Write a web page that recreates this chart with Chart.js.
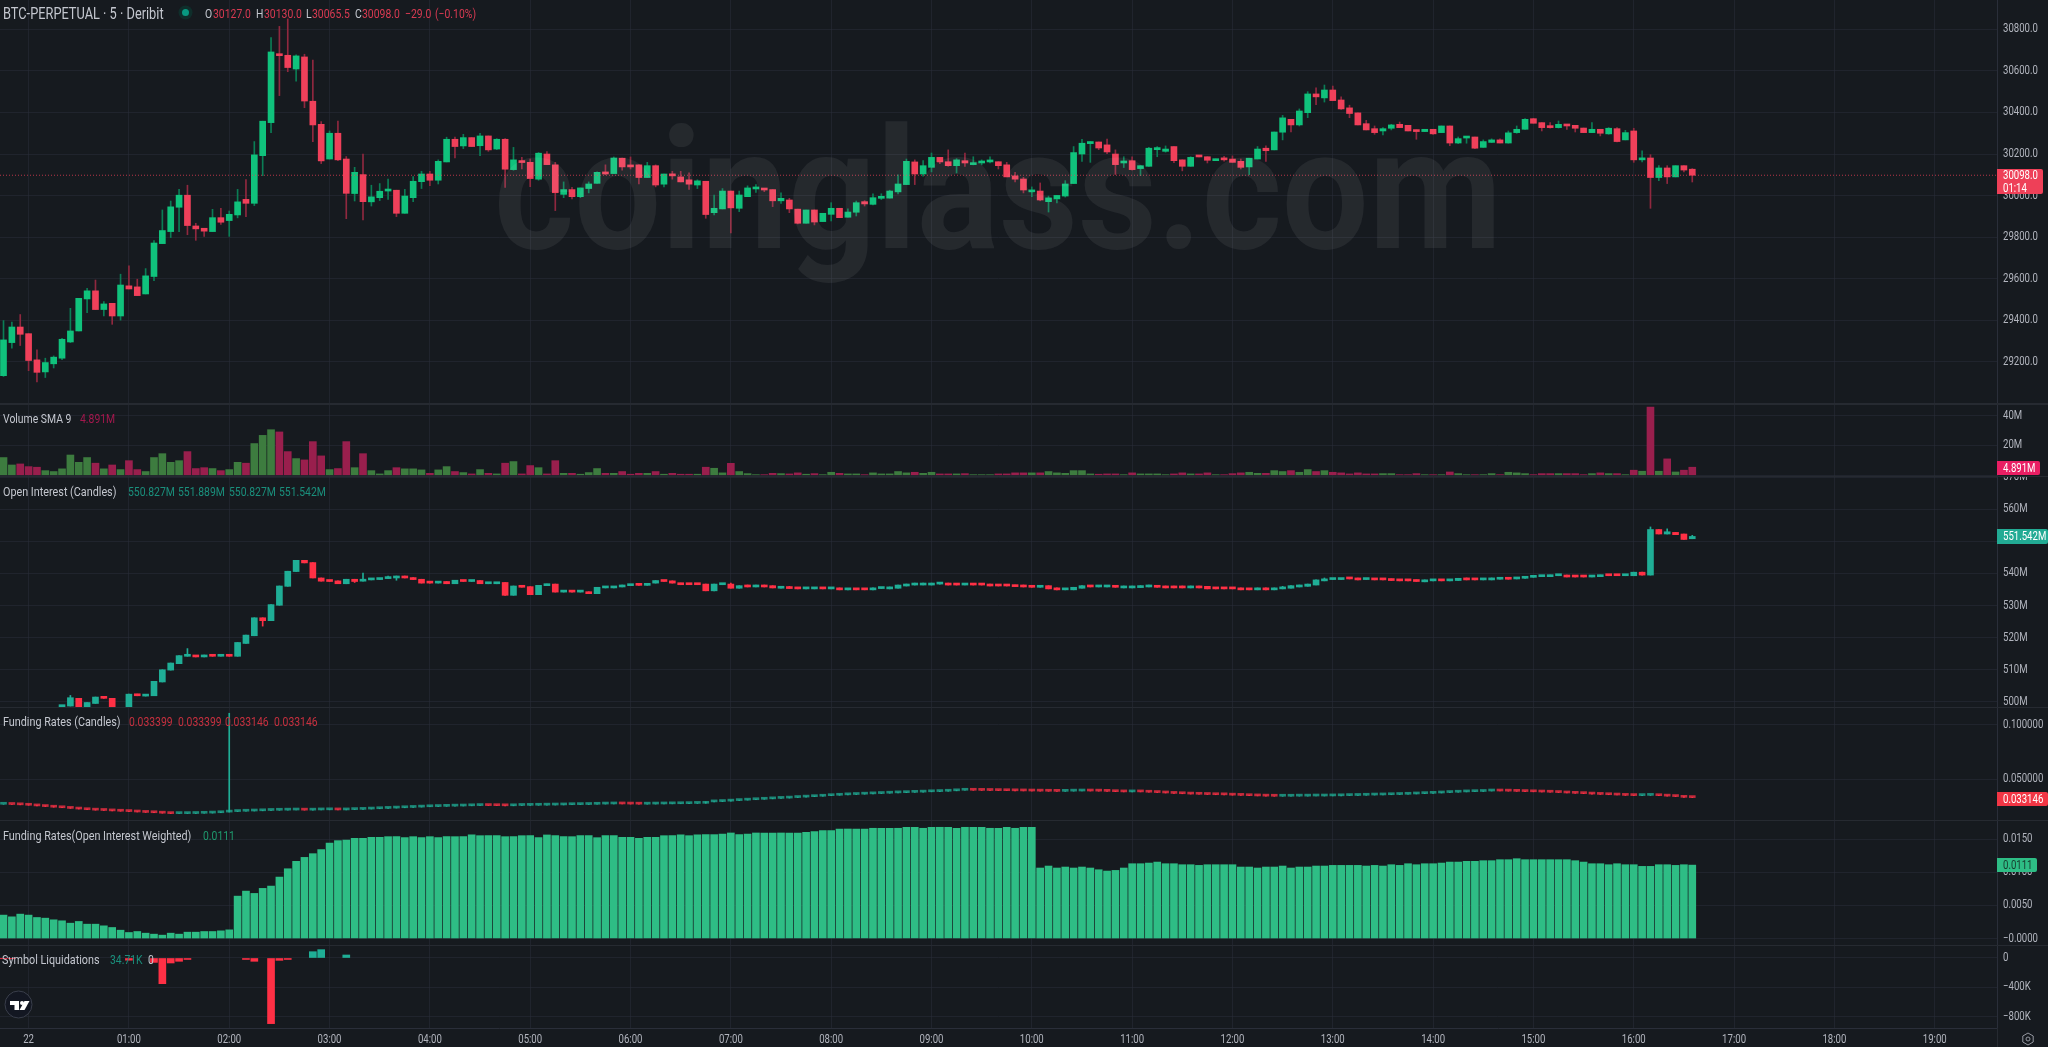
<!DOCTYPE html>
<html>
<head>
<meta charset="utf-8">
<title>BTC-PERPETUAL</title>
<script src="https://cdn.jsdelivr.net/npm/chart.js@4"></script>
<style>
  html, body { margin:0; padding:0; background:#161a1f; width:2048px; height:1047px; overflow:hidden; }
  canvas { position:absolute; left:0; }
  .txt { position:absolute; white-space:pre; transform:translateY(-50%) scaleX(.8); transform-origin:left center; font:13px Roboto,sans-serif; line-height:15px; }
  .tag { position:absolute; left:1997px; font:12px Roboto,sans-serif; padding-left:6px; box-sizing:border-box; border-radius:0 2px 2px 0; }
  .tag span { display:inline-block; transform:scaleX(.8); transform-origin:left center; white-space:pre; }
  .rule { position:absolute; background:#262a31; }
</style>
</head>
<body>
<script>
// 5 minute candles, x is the candle number counted from 00:00 on the 22nd
const firstIndex = -3;

const priceOpen = [29134,29293,29368,29336,29210,29152,29191,29218,29296,29349,
29503,29542,29452,29482,29421,29566,29561,29527,29611,29769,
29827,29944,30002,29854,29843,29827,29894,29880,29907,29982,
29963,30192,30351,30675,30675,30609,30667,30454,30343,30176,
30300,30176,30010,30101,29970,29990,30022,30026,29915,29990,
30067,30104,30074,30162,30271,30239,30279,30240,30287,30224,
30271,30125,30164,30160,30079,30200,30148,30006,30029,29995,
30034,30059,30114,30106,30180,30144,30148,30087,30144,30055,
30104,30090,30076,30051,30069,29918,29936,30022,29939,29995,
30032,30033,30029,29975,29979,29935,29867,29931,29875,29910,
29939,29896,29920,29971,29958,29987,29988,30018,30053,30162,
30104,30136,30184,30163,30144,30168,30149,30157,30162,30163,
30148,30095,30080,30018,30022,29971,29984,29998,30058,30200,
30250,30258,30244,30200,30157,30168,30130,30141,30221,30213,
30236,30172,30141,30191,30187,30168,30175,30176,30165,30138,
30176,30228,30220,30305,30367,30340,30399,30489,30470,30508,
30460,30422,30398,30346,30322,30311,30324,30343,30338,30316,
30308,30319,30303,30335,30253,30277,30282,30232,30256,30268,
30253,30303,30319,30370,30351,30330,30327,30343,30338,30325,
30303,30319,30297,30322,30268,30311,30172,30181,30087,30133,
30090,30144,30127];
const priceHigh = [29399,29392,29428,29336,29258,29218,29229,29314,29458,29506,
29554,29594,29490,29482,29622,29662,29598,29649,29784,29931,
29974,30030,30050,29867,29843,29934,29939,29926,30030,30077,
30260,30358,30760,30814,30850,30677,30680,30652,30356,30311,
30359,30188,30136,30200,30050,30058,30080,30026,30030,30091,
30117,30117,30172,30281,30281,30295,30279,30300,30287,30274,
30274,30232,30184,30176,30207,30212,30160,30066,30040,30037,
30066,30115,30148,30186,30180,30186,30148,30160,30148,30104,
30117,30117,30109,30076,30069,30003,30034,30022,30022,30047,
30053,30033,30029,30013,29987,29935,29931,29931,29915,29966,
29939,29936,29974,29976,30009,30009,30026,30100,30176,30172,
30168,30205,30184,30220,30178,30204,30187,30172,30187,30163,
30160,30112,30088,30042,30061,29998,30001,30072,30236,30271,
30260,30258,30272,30220,30187,30187,30144,30232,30236,30239,
30236,30172,30187,30191,30187,30176,30189,30191,30176,30180,
30236,30239,30306,30386,30367,30417,30500,30518,30532,30527,
30475,30435,30398,30362,30335,30327,30343,30354,30338,30316,
30319,30319,30335,30335,30282,30282,30282,30268,30273,30273,
30311,30335,30370,30372,30351,30351,30359,30343,30338,30325,
30351,30319,30327,30327,30314,30324,30216,30197,30144,30144,
30144,30144,30130];
const priceLow = [29130,29266,29279,29158,29104,29125,29171,29211,29293,29349,
29437,29452,29421,29381,29401,29551,29519,29527,29591,29769,
29798,29827,29812,29785,29804,29827,29861,29804,29893,29899,
29952,30096,30303,30481,30596,30551,30423,30260,30154,30176,
30168,29889,29974,29883,29950,29976,29982,29899,29915,29971,
30034,30048,30056,30162,30181,30226,30236,30192,30213,30221,
30039,30122,30128,30043,30074,30149,29928,29990,29984,29990,
30013,30059,30100,30106,30122,30128,30056,30087,30042,30042,
30079,30066,30030,30034,29891,29907,29936,29821,29923,29995,
30015,30019,29947,29962,29918,29864,29867,29859,29875,29878,
29894,29896,29902,29950,29955,29981,29988,30008,30053,30053,
30093,30114,30154,30141,30109,30141,30148,30148,30157,30128,
30090,30066,30013,29995,29975,29921,29965,29993,30058,30165,
30160,30221,30202,30101,30135,30122,30096,30141,30187,30209,
30159,30119,30141,30186,30157,30168,30166,30160,30128,30101,
30176,30165,30220,30268,30306,30335,30375,30438,30450,30457,
30414,30375,30340,30316,30295,30292,30316,30327,30311,30271,
30308,30294,30303,30240,30250,30252,30226,30232,30255,30253,
30252,30300,30319,30348,30311,30325,30325,30319,30306,30303,
30303,30287,30295,30258,30268,30160,30162,29939,30072,30058,
30090,30114,30065.5];
const priceClose = [29306,29368,29333,29207,29150,29197,29223,29309,29349,29506,
29542,29452,29479,29421,29570,29551,29519,29614,29772,29832,
29946,30002,29856,29840,29829,29894,29872,29910,29970,29963,
30196,30358,30691,30673,30616,30672,30455,30340,30167,30300,
30172,30011,30112,29971,29994,30021,30026,29915,29998,30069,
30104,30074,30165,30271,30236,30279,30236,30287,30220,30271,
30127,30172,30159,30082,30204,30149,30014,30029,29995,30037,
30056,30112,30104,30181,30138,30138,30087,30144,30051,30104,
30095,30066,30055,30071,29909,29939,30022,29941,30003,30037,
30037,30027,29975,29987,29936,29867,29931,29873,29915,29939,
29894,29921,29966,29960,29990,29993,30022,30056,30165,30104,
30144,30184,30162,30144,30172,30157,30157,30163,30168,30144,
30090,30079,30027,30027,29979,29989,30001,30056,30207,30252,
30260,30229,30210,30149,30165,30125,30144,30228,30231,30224,
30168,30141,30184,30186,30170,30176,30172,30160,30136,30180,
30224,30216,30306,30374,30340,30407,30489,30475,30508,30457,
30417,30395,30340,30316,30303,30322,30340,30327,30311,30308,
30319,30297,30335,30253,30274,30282,30228,30260,30268,30253,
30302,30319,30367,30348,30327,30327,30343,30335,30324,30303,
30319,30300,30324,30260,30303,30172,30181,30087,30133,30090,
30144,30123,30098];

// millions
const volume = [11.9,6.9,7.6,5.8,5.4,3.1,2.5,4.3,13.6,8.7,11.9,8.1,4.3,6.9,3.8,9.8,3.8,2.5,11.9,14.5,
8.7,9.8,15.9,4.5,5.1,4.5,3.1,3.8,8.7,8.1,21.3,26.8,30.6,29.1,15.9,11.2,10.3,22.6,13.0,3.8,
4.5,22.6,5.1,14.5,3.1,0.9,3.1,5.1,4.3,4.3,3.6,1.3,3.6,5.8,2.5,1.8,0.9,3.8,1.3,0.9,
8.1,9.2,0.9,6.5,5.1,0.9,9.8,1.3,1.3,0.7,1.8,4.5,1.3,1.3,2.5,0.7,1.3,1.3,2.5,0.7,
1.3,0.7,0.7,0.7,5.4,4.7,1.6,8,2.5,1.1,0.4,0.4,1.3,1.1,0.9,1.6,0.7,1.1,0.4,2,
1.3,0.9,0.9,0.4,1.6,0.9,0.9,2.5,1.6,2,1.3,2,0.9,0.9,0.9,1.1,0.4,0.4,0.4,0.9,
0.9,1.6,1.6,1.6,1.6,2.5,1.6,1.3,3.1,3.1,0.9,0.7,0.9,0.9,0.4,1.6,0.9,0.9,0.9,0.4,
0.9,1.6,0.9,0.9,1.6,0.4,0.4,1.1,1.6,2,1.3,1.3,3.1,2.5,3.1,2,3.8,2.5,3.1,
2,1.6,0.9,1.6,0.9,0.9,1.1,1.1,0.4,0.4,1.1,0.4,0.4,0.4,2.2,1.1,0.4,0.4,0.4,1.1,
0.4,2,1.6,1.1,0.4,1.1,1.1,1.1,1.1,1.1,0.4,1.1,1.6,1.1,1.1,0.4,3.4,2.7,45.8,2.7,
11,2.2,3.4,5.4];

// millions, null where the candle sits below the visible pane
const oiOpen = [null,null,null,null,null,null,null,498.5,498.7,501.1,
498.5,499.5,501.5,501.1,null,498.5,502.4,501.8,501.9,506.2,
509.9,511.9,514.2,514.4,514.0,514.5,514.2,514.5,514.2,518.2,
520.6,526.2,525.3,530.1,536.0,540.6,544.1,543.4,538.6,537.9,
537.7,536.8,538.2,537.6,538.0,538.1,538.4,538.6,539.2,538.7,
538.2,537.4,537.0,537.5,536.8,537.9,537.5,537.8,536.8,536.8,
537.2,533.2,536.1,535.9,533.4,536.2,536.7,534.2,534.5,534.2,
534.3,533.7,535.5,535.5,535.8,536.2,536.5,536.3,537.0,537.8,
537.7,537.0,536.7,536.7,536.7,534.6,536.5,536.7,535.4,536.4,
535.8,536.4,536.2,535.4,535.7,535.7,535.2,535.2,535.5,535.2,
535.5,534.9,535.2,535.2,534.9,535.3,535.2,535.4,536.1,536.4,
536.4,536.4,536.7,537.0,536.7,536.4,536.7,536.7,536.7,536.5,
536.5,536.4,536.4,536.2,535.7,536.2,535.5,534.9,534.9,535.4,
536.2,535.8,535.8,536.2,535.5,535.5,535.6,535.8,536.2,536.1,
536.1,536.1,535.5,536.1,536.0,535.5,535.5,535.5,535.5,535.2,
534.9,535.5,534.9,535.2,535.4,535.8,536.0,536.4,537.7,538.1,
538.1,538.6,538.6,538.1,538.3,538.3,538.3,538.0,538.0,538.0,
537.4,537.7,538.0,537.7,537.8,538.6,538.2,538.0,538.0,538.2,
538.5,538.3,538.5,538.8,539.0,539.0,539.3,539.5,539.3,539.3,
538.9,539.0,539.5,539.5,539.3,539.3,540.4,539.5,553.7,552.3,
552.8,552.3,550.827];
const oiClose = [null,null,null,null,null,null,null,498.9,501.3,498.5,
499.8,501.5,501.1,498.5,null,502.4,501.9,502.2,506.4,510.0,
512.1,514.4,514.5,514.0,514.6,514.2,514.5,514.2,518.5,520.8,
526.2,525.3,530.3,536.1,540.7,544.1,543.3,538.6,537.6,537.5,
536.8,538.2,537.5,538.2,538.2,538.5,538.9,539.2,538.6,538.1,
537.0,537.0,537.5,536.8,537.9,537.5,537.8,536.8,537.0,537.1,
533.2,536.1,535.7,533.4,536.3,536.7,534.2,534.6,534.2,534.4,
533.7,535.7,535.8,535.9,536.4,536.5,536.3,536.9,537.8,537.5,
537.0,536.5,536.5,536.5,534.6,536.7,536.7,535.4,536.2,535.8,
536.4,535.8,535.5,535.8,535.3,535.2,535.5,535.5,535.2,535.5,
534.9,535.3,534.9,534.9,535.5,535.5,535.8,536.4,536.7,536.7,
536.7,537.0,537.0,536.4,536.4,536.7,536.4,536.4,536.1,536.1,
536.1,535.9,535.8,535.7,536.2,535.2,534.9,535.2,535.7,536.2,
535.8,536.3,536.3,535.7,536.1,536.1,536.2,536.4,535.7,535.5,
535.5,535.5,536.1,535.5,535.2,535.2,535.2,535.2,534.9,534.9,
535.5,534.9,535.5,535.7,536.2,536.4,536.7,538.0,538.3,538.4,
538.5,538.3,538.0,538.3,538.0,538.0,537.8,537.7,537.7,537.5,
538.0,538.0,537.7,538.0,538.5,538.0,538.0,538.2,538.6,538.6,
538.2,538.8,539.0,539.3,539.4,539.5,539.5,538.9,538.9,538.9,
539.3,539.5,539.3,539.3,539.5,540.4,539.5,553.7,552.3,553.0,
552.1,550.6,551.542];
// the few open interest candles with a visible wick, as candle position in the list above
const oiWickPos = [8,22,31,42,43,46,47,87,94,109,110,153,158,197,199,202];
const oiWickHigh = [502.0,516.6,526.2,538.2,540.1,539.2,539.2,537.0,536.0,537.0,537.0,536.0,538.6,554.5,553.9,551.889];
const oiWickLow = [498.7,514.2,523.6,537.2,537.6,538.4,537.9,535.4,535.3,536.4,536.4,535.2,537.7,539.5,552.3,550.827];

const fundRate = [.0270,.0268,.0265,.0261,.0255,.0249,.0243,.0238,.0232,.0226,
.0220,.0216,.0213,.0209,.0206,.0203,.0199,.0195,.0192,.0188,
.0184,.0184,.0185,.0187,.0189,.0192,.0198,.0203,.0206,.0208,
.0210,.0213,.0215,.0216,.0217,.0217,.0216,.0218,.0219,.0220,
.0218,.0221,.0223,.0226,.0229,.0232,.0235,.0238,.0241,.0244,
.0247,.0249,.0251,.0253,.0254,.0256,.0258,.0259,.0258,.0257,
.0256,.0259,.0260,.0261,.0262,.0263,.0264,.0266,.0267,.0268,
.0270,.0272,.0273,.0274,.0273,.0272,.0271,.0272,.0273,.0274,
.0275,.0276,.0278,.0279,.0292,.0295,.0299,.0304,.0308,.0312,
.0316,.0320,.0324,.0327,.0332,.0336,.0340,.0344,.0349,.0353,
.0357,.0360,.0363,.0366,.0369,.0372,.0375,.0377,.0380,.0382,
.0385,.0387,.0390,.0394,.0399,.0400,.0399,.0398,.0397,.0396,
.0395,.0394,.0393,.0392,.0391,.0390,.0389,.0391,.0392,.0393,
.0392,.0391,.0389,.0386,.0384,.0386,.0384,.0381,.0378,.0374,
.0370,.0367,.0364,.0362,.0360,.0358,.0357,.0354,.0352,.0349,
.0347,.0345,.0344,.0344,.0345,.0345,.0346,.0346,.0347,.0348,
.0350,.0351,.0353,.0355,.0356,.0358,.0360,.0362,.0365,.0368,
.0371,.0374,.0378,.0381,.0384,.0386,.0388,.0392,.0393,.0392,
.0391,.0389,.0387,.0385,.0383,.0381,.0378,.0374,.0371,.0368,
.0364,.0361,.0358,.0355,.0352,.0350,.0352,.0353,.0349,.0345,
.0341,.033399,.033146];
const fundSpikeIndex = 24;
const fundSpikeHigh = 0.1108;

const fundWeighted = [.00354,.00328,.00369,.00354,.00318,.00308,.00283,.00268,.00232,.00258,
.00217,.00217,.00192,.00167,.00126,.00091,.00106,.00081,.00066,.00051,
.00081,.00066,.00096,.00096,.00106,.00106,.00116,.00131,.00641,.00717,
.00682,.00758,.00793,.00929,.01055,.01167,.01227,.01283,.01343,.01444,
.0148,.0149,.01515,.01515,.0153,.0153,.0154,.0154,.01525,.0154,
.01525,.0154,.01525,.0154,.0154,.0154,.01566,.01555,.01555,.01555,
.0154,.0154,.01555,.01555,.01525,.01566,.01555,.0154,.0154,.01555,
.01555,.01525,.01555,.01555,.0153,.0153,.01515,.0153,.0153,.01555,
.01555,.01566,.01555,.01566,.01571,.01571,.01581,.01596,.01571,.01581,
.01596,.01596,.01596,.01596,.01596,.01596,.01606,.01616,.01631,.01631,
.01656,.01656,.01656,.01656,.01667,.01667,.01667,.01667,.01682,.01682,
.01667,.01682,.01682,.01682,.01667,.01682,.01682,.01682,.01667,.01667,
.01682,.01667,.01682,.01682,.01066,.01096,.01066,.01081,.01066,.01081,
.01066,.0104,.0102,.0103,.01066,.01131,.01131,.01141,.01156,.01131,
.01131,.01116,.01116,.01106,.01116,.01116,.01116,.01116,.01081,.01081,
.01066,.01081,.01081,.01096,.01066,.01081,.01081,.01096,.01096,.01106,
.01106,.01106,.01106,.01096,.01106,.01096,.01116,.01106,.01131,.01116,
.01131,.01131,.01141,.01156,.01156,.01167,.01167,.01177,.01177,.01192,
.01192,.01207,.01192,.01192,.01192,.01192,.01192,.01192,.01177,.01156,
.01131,.01131,.01116,.01131,.01116,.01116,.01091,.01091,.01116,.01116,
.01106,.01116,.0111];

// thousands, only the candles that had liquidations
const liqIndex = [-3,-2,12,15,16,17,18,19,26,27,29,30,31,34,35,38];
const liqValue = [-10,-10,-30,-60,-350,-68,-45,-20,-20,-45,-895,-32,-20,86,114,41];

const priceTicks = [30800,30600,30400,30200,30000,29800,29600,29400,29200];
const volumeTicks = [40,20,0];
const oiTicks = [570,560,550,540,530,520,510,500];
const fundTicks = [0.1,0.05];
const weightedTicks = [0.015,0.01,0.005,0];
const liqTicks = [0,-400,-800];
const timeTicks = [0,12,24,36,48,60,72,84,96,108,120,132,144,156,168,180,192,204,216,228];
const timeLabels = ['22','01:00','02:00','03:00','04:00','05:00','06:00','07:00','08:00','09:00','10:00','11:00','12:00','13:00','14:00','15:00','16:00','17:00','18:00','19:00'];

const xMin = -3.42, xMax = 235.45;
const gridColor = 'rgba(42,46,57,.55)';
const axisFont = { family:'Roboto,sans-serif', size:12 };
const xAt = i => firstIndex + i;
const UP = '#10c27c', DOWN = '#f0405a', UP_WICK = '#0b7d55', DOWN_WICK = '#90283f';
const TEAL = '#1fae96', RED = '#ff3045';
const TEXT_SQUEEZE = 0.8; // the screenshot's text is narrower than any installed font

// every label of a chart goes through this, so it comes out as narrow as in the screenshot
const squeeze = {
  id:'squeeze',
  beforeInit(chart) {
    const ctx = chart.ctx, fill = ctx.fillText;
    ctx.fillText = function (t, x, y, w) {
      return fill.call(ctx, t, x, y, w === undefined ? ctx.measureText(t).width * TEXT_SQUEEZE : w);
    };
  }
};

// faint brand text laid over the candles
const watermark = {
  id:'watermark',
  afterDatasetsDraw(chart) {
    const ctx = chart.ctx;
    ctx.save();
    ctx.font = '700 168px Roboto, sans-serif';
    ctx.fillStyle = 'rgba(255,255,255,.065)';
    ctx.textBaseline = 'alphabetic';
    ctx.textAlign = 'left';
    ctx.fillText('coinglass.com', 494, 248, 1008);
    ctx.restore();
  }
};

function pane(id, top, height, yMin, yMax, yTicks, yLabel, datasets, last, plugins) {
  const c = document.createElement('canvas');
  c.id = id;
  c.width = 2048;
  c.height = height;
  c.style.top = top + 'px';
  document.body.appendChild(c);
  return new Chart(c.getContext('2d'), {
    type:'bar',
    data:{ datasets },
    plugins: [squeeze].concat(plugins || []),
    options:{
      responsive:false, animation:false, devicePixelRatio:1,
      layout:{ padding:0 },
      plugins:{ legend:{display:false}, tooltip:{enabled:false} },
      scales:{
        x:{
          type:'linear', min:xMin, max:xMax, offset:false,
          afterBuildTicks:s => { s.ticks = timeTicks.map(v => ({value:v})); },
          afterFit:s => { s.height = last ? 19 : 0; s.paddingLeft = s.paddingRight = 0; },
          grid:{ color:gridColor, drawTicks:false, offset:false },
          border:{ display:last, color:'#2a2e39' },
          ticks:{ display:last, autoSkip:false, maxRotation:0, color:'#b2b5be', font:axisFont, padding:5,
            callback:v => timeLabels[timeTicks.indexOf(v)] }
        },
        y:{
          position:'right', min:yMin, max:yMax,
          afterBuildTicks:s => { s.ticks = yTicks.map(v => ({value:v})); },
          afterFit:s => { s.width = 51; s.paddingTop = s.paddingBottom = 0; },
          grid:{ color:gridColor, drawTicks:false },
          border:{ color:'#2a2e39' },
          ticks:{ color:'#b2b5be', font:axisFont, padding:6, callback:yLabel }
        }
      }
    }
  });
}

function candleSets(open, high, low, close, up, down, upWick, downWick, width) {
  const body = [], wick = [], bodyCol = [], wickCol = [];
  open.forEach((o, i) => {
    if (o === null) return;
    const isUp = close[i] >= o;
    body.push({ x:xAt(i), y:[o, close[i]] });
    wick.push({ x:xAt(i), y:[low[i], high[i]] });
    bodyCol.push(isUp ? up : down);
    wickCol.push(isUp ? upWick : downWick);
  });
  return [
    { data:body, backgroundColor:bodyCol, barThickness:width, grouped:false, minBarLength:2 },
    { data:wick, backgroundColor:wickCol, barThickness:1, grouped:false }
  ];
}

// price
const lastPrice = priceClose[priceClose.length - 1];
pane('price', 0, 403, 29002.5, 30940.9, priceTicks, v => v.toFixed(1), [
  { type:'line', data:[{x:xMin, y:lastPrice},{x:xMax, y:lastPrice}], borderColor:'rgba(238,64,88,.75)', borderWidth:1, borderDash:[1,2], pointRadius:0 },
  ...candleSets(priceOpen, priceHigh, priceLow, priceClose, UP, DOWN, UP_WICK, DOWN_WICK, 6)
], false, [watermark]);

// volume, coloured by the direction of the price candle
pane('volume', 405, 71, -0.5, 47.2, volumeTicks, v => v ? v + 'M' : '', [
  { data:volume.map((v, i) => ({x:xAt(i), y:v})),
    backgroundColor:volume.map((v, i) => priceClose[i] >= priceOpen[i] ? '#3d7c3f' : '#991f4d'),
    barThickness:7, grouped:false }
], false);

// open interest
const oiHigh = oiOpen.map((o, i) => o === null ? null : Math.max(o, oiClose[i]));
const oiLow = oiOpen.map((o, i) => o === null ? null : Math.min(o, oiClose[i]));
oiWickPos.forEach((p, k) => { oiHigh[p] = oiWickHigh[k]; oiLow[p] = oiWickLow[k]; });
pane('oi', 477, 230, 498.4, 570.06, oiTicks, v => v + 'M',
  candleSets(oiOpen, oiHigh, oiLow, oiClose, TEAL, RED, TEAL, RED, 6), false);

// funding rate candles, each one opens at the previous close
const fundOpen = fundRate.map((v, i) => i ? fundRate[i - 1] : v);
const fundHigh = fundRate.map((v, i) => xAt(i) === fundSpikeIndex ? fundSpikeHigh : Math.max(v, fundOpen[i]));
const fundLow = fundRate.map((v, i) => Math.min(v, fundOpen[i]));
pane('funding', 708, 112, 0.01252, 0.11565, fundTicks, v => v.toFixed(6),
  candleSets(fundOpen, fundHigh, fundLow, fundRate, 'rgba(31,174,150,.75)', 'rgba(255,48,69,.75)', TEAL, RED, 6), false);

// open interest weighted funding
pane('weighted', 821, 124, -0.00098, 0.01777, weightedTicks, v => v ? v.toFixed(4) : '\u22120.0000', [
  { data:fundWeighted.map((v, i) => ({x:xAt(i), y:v})), backgroundColor:'#2ebd85', barThickness:7, grouped:false }
], false);

// liquidations, with the time axis below
pane('liq', 946, 101, -954.5, 163.6, liqTicks, v => v ? '\u2212' + (-v) + 'K' : '0', [
  { data:liqValue.map((v, i) => ({x:liqIndex[i], y:v})),
    backgroundColor:liqValue.map(v => v > 0 ? TEAL : RED), barThickness:7, grouped:false }
], true);

// pane separators and axis edge
[[403,2],[476,1],[707,1],[820,1],[945,1]].forEach(([y,h]) => {
  const d = document.createElement('div');
  d.className = 'rule';
  d.style.cssText = `left:0;width:2048px;top:${y}px;height:${h}px`;
  document.body.appendChild(d);
});
const edge = document.createElement('div');
edge.className = 'rule';
edge.style.cssText = 'left:1997px;width:1px;top:1028px;height:19px';
document.body.appendChild(edge);

// legends
const GREY = '#c4c7cf', PRICE_RED = '#d83a52';
const legend = [
  ['BTC-PERPETUAL \u00b7 5 \u00b7 Deribit', 3, 13, GREY, 16],
  ['O', 205, 13, GREY], ['30127.0', 213, 13, PRICE_RED],
  ['H', 256, 13, GREY], ['30130.0', 264, 13, PRICE_RED],
  ['L', 306, 13, GREY], ['30065.5', 312, 13, PRICE_RED],
  ['C', 355, 13, GREY], ['30098.0', 362, 13, PRICE_RED],
  ['\u221229.0', 405, 13, PRICE_RED], ['(\u22120.10%)', 435, 13, PRICE_RED],
  ['Volume SMA 9', 3, 418, GREY], ['4.891M', 80, 418, '#a3184d'],
  ['Open Interest (Candles)', 3, 491, GREY, 13.5],
  ['550.827M', 128, 491, '#1a8f7c'], ['551.889M', 178, 491, '#1a8f7c'],
  ['550.827M', 229, 491, '#1a8f7c'], ['551.542M', 279, 491, '#1a8f7c'],
  ['Funding Rates (Candles)', 3, 721, GREY, 13.5],
  ['0.033399', 129, 721, '#c8303f'], ['0.033399', 178, 721, '#c8303f'],
  ['0.033146', 225, 721, '#c8303f'], ['0.033146', 274, 721, '#c8303f'],
  ['Funding Rates(Open Interest Weighted)', 3, 835, GREY, 13.5], ['0.0111', 203, 835, '#1f9a6e'],
  ['Symbol Liquidations', 2, 959, GREY, 13.5], ['34.71K', 110, 959, '#1a8f7c'], ['0', 148, 959, GREY]
];
legend.forEach(([t, x, y, col, size]) => {
  const s = document.createElement('span');
  s.className = 'txt';
  s.textContent = t;
  s.style.cssText = `left:${x}px;top:${y}px;color:${col};font-size:${size || 13}px`;
  document.body.appendChild(s);
});

// last value tags on the axis
const tags = [
  ['30098.0\n01:14', 169, 25, 46, '#ee4058', '#fff'],
  ['4.891M', 461, 14, 43, '#e91e63', '#fff'],
  ['551.542M', 529, 15, 51, '#22ab94', '#fff'],
  ['0.033146', 792, 14, 51, '#f23645', '#fff'],
  ['0.0111', 858, 14, 40, '#2ebd85', '#173a2c']
];
tags.forEach(([t, y, h, w, bg, col]) => {
  const d = document.createElement('div');
  d.className = 'tag';
  const s = document.createElement('span');
  s.textContent = t;
  d.appendChild(s);
  d.style.cssText = `top:${y}px;height:${h}px;width:${w}px;background:${bg};color:${col};line-height:${h > 20 ? 12.5 : h}px`;
  document.body.appendChild(d);
});

// small icons
document.body.insertAdjacentHTML('beforeend', `
<svg style="position:absolute;left:4px;top:990px" width="29" height="29" viewBox="0 0 29 29">
  <circle cx="14.5" cy="14.5" r="13.5" fill="#131722" stroke="#3a3f4b"/>
  <path d="M6 11h9v9h-4.5v-5H6z" fill="#fff"/><circle cx="18" cy="13" r="2" fill="#fff"/>
  <path d="M20.5 11h5l-5 9h-5z" fill="#fff"/>
</svg>
<svg style="position:absolute;left:2021px;top:1032px" width="14" height="14" viewBox="0 0 14 14" fill="none" stroke="#9598a1">
  <path d="M7 1l5.2 3v6L7 13l-5.200-3V4z"/><circle cx="7" cy="7" r="2"/>
</svg>
<svg style="position:absolute;left:178px;top:5px" width="15" height="15" viewBox="0 0 15 15">
  <circle cx="7.500" cy="7.500" r="7" fill="#0f2e2b"/><circle cx="7.500" cy="7.500" r="3.500" fill="#089981"/>
</svg>`);
</script>
</body>
</html>
